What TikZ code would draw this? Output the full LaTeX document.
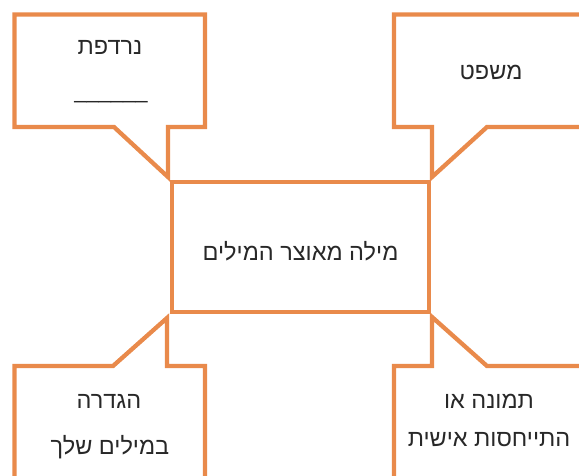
\documentclass[tikz,border=0pt]{standalone}
\usepackage{fontspec}
\newfontfamily\hebfont[Script=Hebrew]{Liberation Sans}
\TeXXeTstate=1
\definecolor{calloutorange}{RGB}{233,138,75}
\definecolor{textgray}{RGB}{40,40,40}
\begin{document}
\begin{tikzpicture}[x=1pt,y=-1pt,
  outline/.style={draw=calloutorange,line width=4.3pt,line join=miter},
  heb/.style={font=\hebfont\fontsize{23.5}{28}\selectfont,text=textgray,inner sep=0pt}]
\useasboundingbox (0,0) rectangle (579,475);
\clip (0,0) rectangle (579,475);

% speech-bubble frames, each pointing at a corner of the central box
\draw[outline] (14.5,14.5) -- (205,14.5) -- (205,127) -- (168,127) -- (168,177)
  -- (114,127) -- (14.5,127) -- cycle;
\draw[outline] (600,14.5) -- (394,14.5) -- (394,127) -- (432,127) -- (432,177)
  -- (487,127) -- (600,127) -- cycle;
\draw[outline] (14.5,600) -- (14.5,366) -- (113,366) -- (167,318) -- (167,366)
  -- (205,366) -- (205,600) -- cycle;
\draw[outline] (394,600) -- (394,366) -- (432,366) -- (432,317) -- (487,366)
  -- (600,366) -- (600,600) -- cycle;

% central word box
\draw[outline] (172,182) rectangle (429,312);
\node[heb] (word) at (300.5,251) {\beginR מילה מאוצר המילים\endR};

% bubble texts
\node[heb] (syn) at (110,47) {\beginR נרדפת\endR};
\node[heb,font=\hebfont\fontsize{22}{26}\selectfont] (blank) at (111,101) {\_\_\_\_\_\_};
\node[heb] (sent) at (491,72) {\beginR משפט\endR};
\node[heb] (def1) at (109,401) {\beginR הגדרה\endR};
\node[heb] (def2) at (110,447) {\beginR במילים שלך\endR};
\node[heb] (pic1) at (489,401) {\beginR תמונה או\endR};
\node[heb] (pic2) at (489,440) {\beginR התייחסות אישית\endR};
\end{tikzpicture}
\end{document}
